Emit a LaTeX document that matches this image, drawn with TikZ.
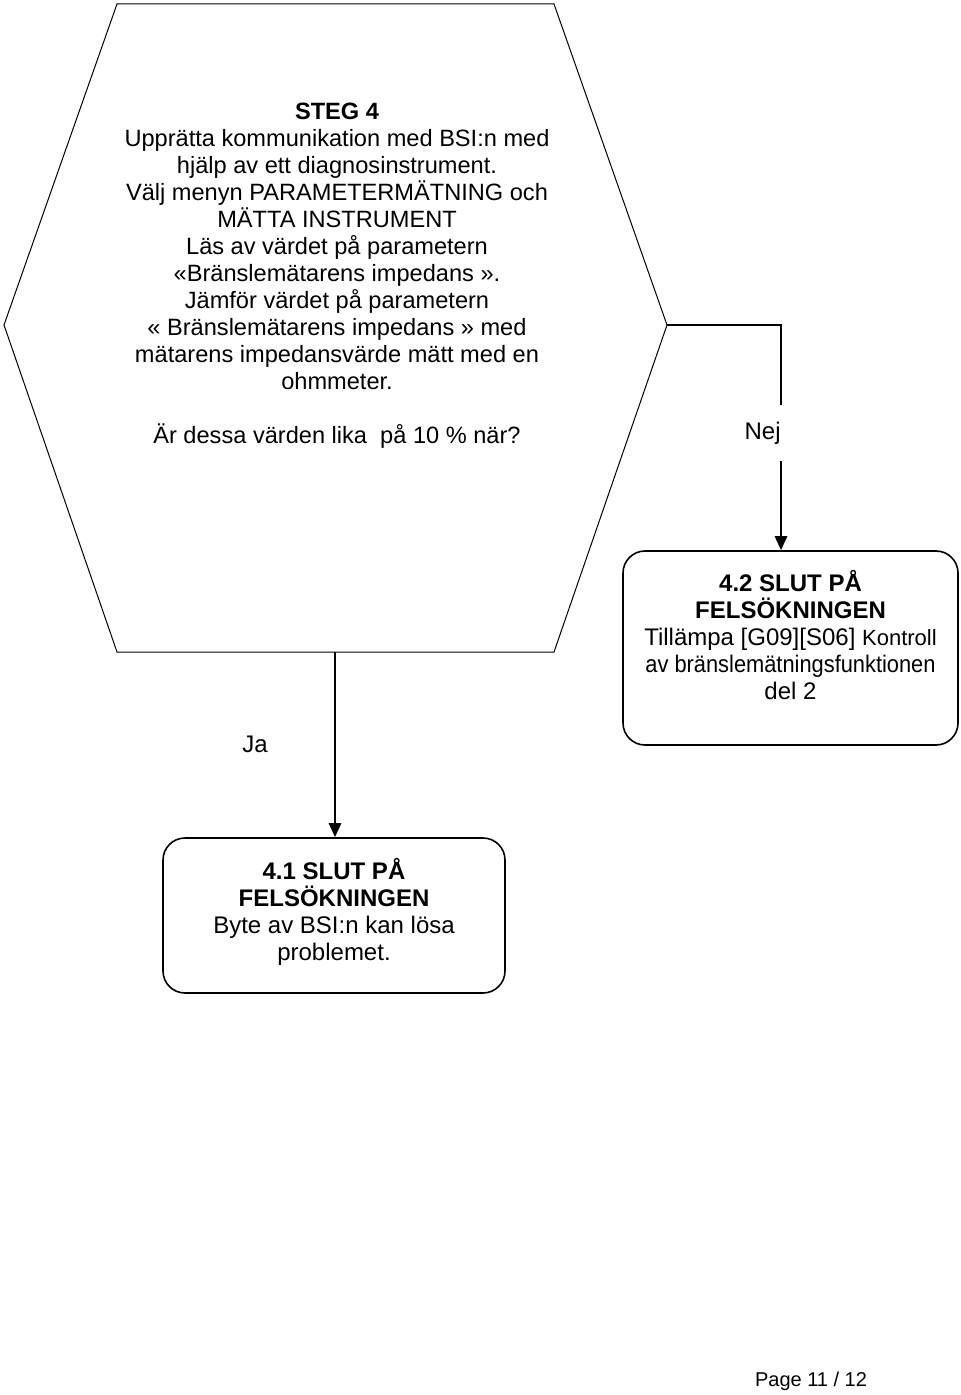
\documentclass[tikz,border=0pt]{standalone}
\usepackage{fontspec}
\setmainfont{Liberation Sans}
\usetikzlibrary{arrows.meta,positioning}

\tikzset{
  endbox/.style={draw, line width=0.8pt, rounded corners=11pt},
  flow/.style={line width=1.4pt},
  txt/.style={align=center, font=\fontsize{12}{13.5}\selectfont, inner sep=0pt}
}

\begin{document}
\begin{tikzpicture}[x=0.5pt, y=-0.5pt, >={Triangle[length=7pt,width=6pt]}]
\useasboundingbox (0,0) rectangle (960,1395);

% hexagon of step 4
\coordinate (htl) at (117,4);
\coordinate (htr) at (554,4);
\coordinate (hr) at (667,325);
\coordinate (hbr) at (554,652);
\coordinate (hbl) at (117,652);
\coordinate (hl) at (4,325);
\coordinate (hbot) at (335,652);
\draw[line width=0.5pt] (htl) -- (htr) -- (hr) -- (hbr) -- (hbl) -- (hl) -- cycle;
\node[txt, font=\fontsize{11.8}{13.5}\selectfont] (steg) at (337,276) {\textbf{STEG 4}\\
  Upprätta kommunikation med BSI:n med\\
  hjälp av ett diagnosinstrument.\\
  Välj menyn PARAMETERMÄTNING och\\
  MÄTTA INSTRUMENT\\
  Läs av värdet på parametern\\
  «Bränslemätarens impedans ».\\
  Jämför värdet på parametern\\
  « Bränslemätarens impedans » med\\
  mätarens impedansvärde mätt med en\\
  ohmmeter.\\[13.5pt]
  Är dessa värden lika~ på 10 \% när?};

% end boxes
\node[endbox, minimum width=167.5pt, minimum height=97pt] (b42) at (790.5,648) {};
\node[txt, below=10pt of b42.north] (t42) {\textbf{4.2 SLUT PÅ}\\
  \textbf{FELSÖKNINGEN}\\
  Tillämpa [G09][S06] {\fontsize{11}{13.5}\selectfont Kontroll}\\
  \scalebox{0.91}[1]{av bränslemätningsfunktionen}\\
  del 2};
\node[endbox, minimum width=171pt, minimum height=77.5pt] (b41) at (334,915.5) {};
\node[txt, below=10.5pt of b41.north] (t41) {\textbf{4.1 SLUT PÅ}\\
  \textbf{FELSÖKNINGEN}\\
  Byte av BSI:n kan lösa\\
  problemet.};

% Nej branch
\node[txt, anchor=east, minimum height=27.5pt] (nej) at (781,433) {Nej};
\draw[flow] (hr) -| (nej.north east);
\draw[flow,->] (nej.south east) -- (nej.south east |- b42.north);

% Ja branch
\node[txt] (ja) at (255,744) {Ja};
\draw[flow,->] (hbot) -- (hbot |- b41.north);

\node[font=\fontsize{10}{12}\selectfont, inner sep=0pt] (page) at (811,1381) {Page 11 / 12};
\end{tikzpicture}
\end{document}
